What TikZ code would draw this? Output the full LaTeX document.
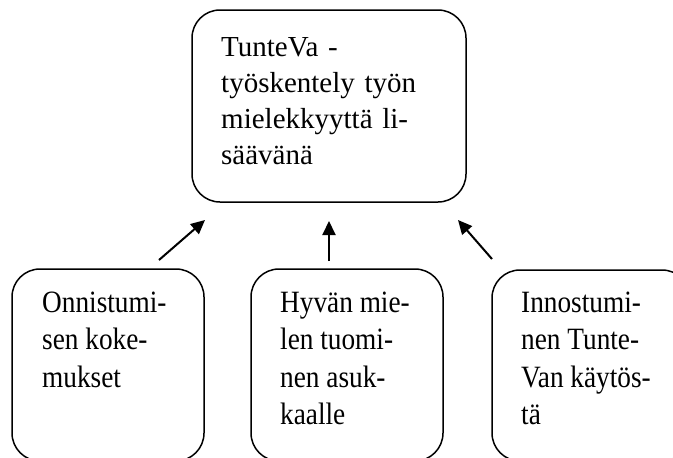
\documentclass[tikz,border=0pt]{standalone}
\usepackage{fontspec}
\setmainfont{Liberation Serif}
\usetikzlibrary{arrows.meta}
% a narrowed, left-aligned block of lines for the lower boxes
\newcommand{\narrowlines}[1]{\scalebox{0.88}[1]{\begin{tabular}[t]{@{}l@{}}#1\end{tabular}}}
\begin{document}
\begin{tikzpicture}[x=1pt,y=-1pt,
  roundbox/.style={draw,line width=1.5pt,rounded corners=28pt},
  toptext/.style={anchor=base west,inner sep=0pt,align=left,text width=260pt,
    font=\fontsize{29}{36}\selectfont},
  lowtext/.style={anchor=base west,inner sep=0pt,
    font=\fontsize{31}{37.5}\selectfont},
  upflow/.style={line width=2pt,-{Triangle[length=14pt,width=13pt]}}]
\useasboundingbox (0,0) rectangle (673,458);
\clip (0,0) rectangle (673,458);

% boxes
\draw[roundbox] (192,10) rectangle (466,202);
\draw[roundbox] (12,269) rectangle (204,461);
\draw[roundbox] (251,269) rectangle (443,461);
\draw[roundbox] (492,270) rectangle (690,461);

% texts
\node[toptext] (goal) at (221,56) {TunteVa -\\työskentely työn\\mielekkyyttä li-\\säävänä};
\node[lowtext] (success) at (42,312) {\narrowlines{Onnistumi-\\sen koke-\\mukset}};
\node[lowtext] (mood) at (280,312) {\narrowlines{Hyvän mie-\\len tuomi-\\nen asuk-\\kaalle}};
\node[lowtext] (zeal) at (521,312) {\narrowlines{Innostumi-\\nen Tunte-\\Van käytös-\\tä}};

% arrows
\coordinate (l0) at (159,260); \coordinate (l1) at (205,220);
\coordinate (m0) at (329,261); \coordinate (m1) at (329,221);
\coordinate (r0) at (492,259); \coordinate (r1) at (458,220);
\draw[upflow] (l0) -- (l1);
\draw[upflow] (m0) -- (m1);
\draw[upflow] (r0) -- (r1);
\end{tikzpicture}
\end{document}
